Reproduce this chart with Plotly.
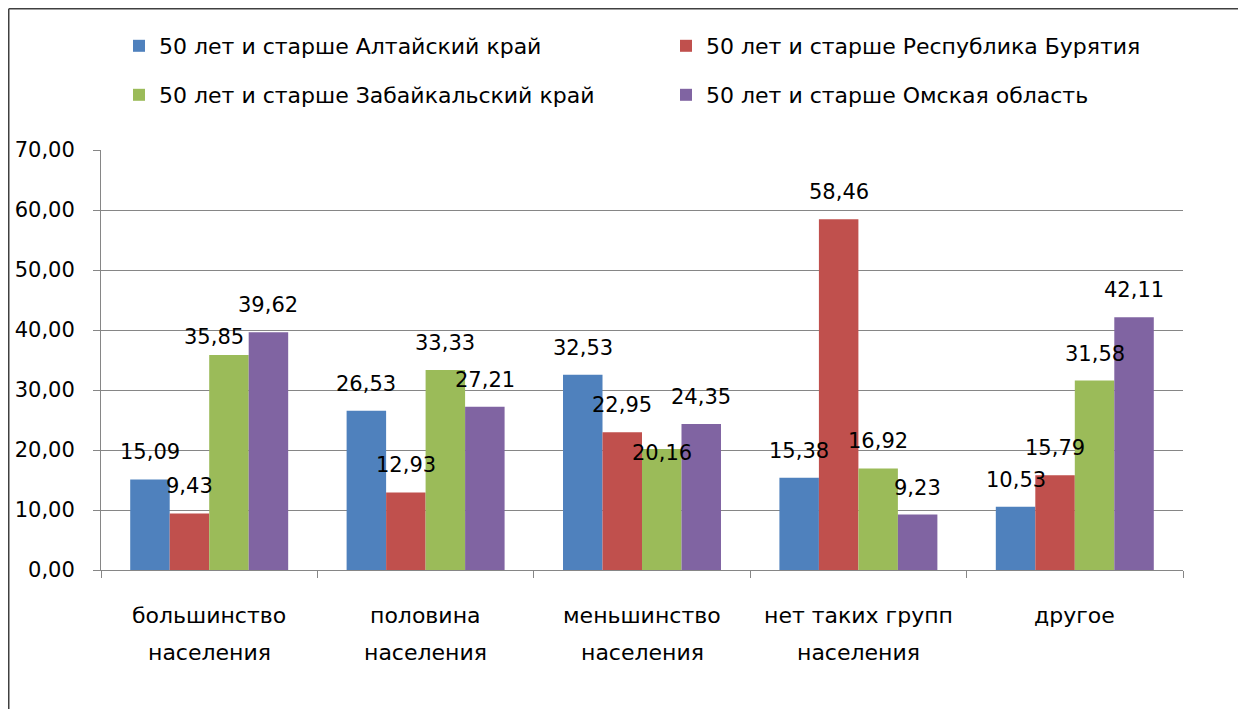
import plotly.graph_objects as go

# ---------------- data ----------------
categories = ["большинство<br>населения", "половина<br>населения", "меньшинство<br>населения",
              "нет таких групп<br>населения", "другое"]
series_names = ["50 лет и старше Алтайский край", "50 лет и старше Республика Бурятия",
                "50 лет и старше Забайкальский край", "50 лет и старше Омская область"]
altai = [15.09, 26.53, 32.53, 15.38, 10.53]
buryatia = [9.43, 12.93, 22.95, 58.46, 15.79]
zabaikal = [35.85, 33.33, 20.16, 16.92, 31.58]
omsk = [39.62, 27.21, 24.35, 9.23, 42.11]
y_ticks = [0, 10, 20, 30, 40, 50, 60, 70]

series_values = [altai, buryatia, zabaikal, omsk]
colors = ["#4F81BD", "#C0504D", "#9BBB59", "#8064A2"]

# ---------------- layout constants (figure pixels; page body adds an 8px offset) ----------------
OFF = 8
W, H = 1246, 709
ML, MT = 101 - OFF, 150 - OFF
PW, PH = 1082, 420
MR = W - ML - PW
MB = H - MT - PH
BARGAP = 0.27
FONT = "DejaVu Sans"
cat_px = PW / len(categories)
bar_px = cat_px * (1 - BARGAP) / len(series_values)

# manual label nudges (series index, category index) -> (dx, dy)
nudges = {(2, 0): (-15, -9), (2, 2): (0, -31)}


def px_x(p):
    # p: screenshot pixel x
    return (p - OFF - ML) / PW


def px_y(p):
    # p: screenshot pixel y
    return (H - MB - (p - OFF)) / PH


# legend slot positions (screenshot px of item start, row centre)
legend_slots = [(119, 46), (666, 46), (119, 95), (666, 95)]
legend_ids = ["legend", "legend2", "legend3", "legend4"]

fig = go.Figure()
for j, (name, vals, col) in enumerate(zip(series_names, series_values, colors)):
    fig.add_trace(go.Bar(x=categories, y=vals, name=name, marker=dict(color=col, line=dict(width=0)),
                         legend=legend_ids[j]))

annotations = []
for j, vals in enumerate(series_values):
    for i, v in enumerate(vals):
        dx, dy = nudges.get((j, i), (0, 0))
        annotations.append(dict(
            x=categories[i], y=v, xref="x", yref="y",
            text=f"{v:.2f}".replace(".", ","), showarrow=False,
            xshift=(j - 1.5) * bar_px + dx, yshift=27 + dy,
            yanchor="middle", xanchor="center",
            font=dict(family=FONT, size=21, color="#000000")))

for i, c in enumerate(categories):
    lines = c.split("<br>")
    for k, ln in enumerate(lines):
        annotations.append(dict(
            x=c, y=0, xref="x", yref="paper", text=ln, showarrow=False,
            yshift=-45 - 37 * k, yanchor="middle", xanchor="center",
            font=dict(family=FONT, size=22, color="#000000")))

shapes = [
    dict(type="line", xref="paper", yref="paper", x0=px_x(OFF + 0.75), x1=px_x(W + OFF),
         y0=px_y(OFF + 0.75), y1=px_y(OFF + 0.75), line=dict(color="#404040", width=1.5)),
    dict(type="line", xref="paper", yref="paper", x0=px_x(OFF + 0.75), x1=px_x(OFF + 0.75),
         y0=px_y(OFF + 0.75), y1=px_y(H + OFF), line=dict(color="#404040", width=1.5)),
]

legend_common = dict(orientation="v", xanchor="left", yanchor="middle",
                     font=dict(family=FONT, size=22, color="#000000"),
                     bgcolor="rgba(0,0,0,0)", itemclick=False, itemdoubleclick=False)
legends = {}
for lid, (lx, ly) in zip(legend_ids, legend_slots):
    legends[lid] = dict(x=px_x(lx), y=px_y(ly), **legend_common)

fig.update_layout(
    width=W, height=H,
    margin=dict(l=ML, r=MR, t=MT, b=MB, autoexpand=False),
    paper_bgcolor="white", plot_bgcolor="white",
    barmode="group", bargap=BARGAP, bargroupgap=0,
    separators=", ",
    font=dict(family=FONT, size=21, color="#000000"),
    showlegend=True,
    annotations=annotations,
    shapes=shapes,
    xaxis=dict(showticklabels=False, showgrid=False, ticks="outside", tickson="boundaries",
               ticklen=7, tickcolor="#868686", showline=True, linecolor="#868686", linewidth=1,
               zeroline=False),
    yaxis=dict(range=[0, 70], tickvals=y_ticks, tickformat=".2f", showgrid=True,
               gridcolor="#868686", gridwidth=1, ticks="outside", ticklen=7, tickcolor="#868686",
               showline=True, linecolor="#868686", linewidth=1, zeroline=False,
               ticklabelstandoff=14, tickfont=dict(family=FONT, size=21, color="#000000")),
    **legends,
)

fig.write_html("out.html")
